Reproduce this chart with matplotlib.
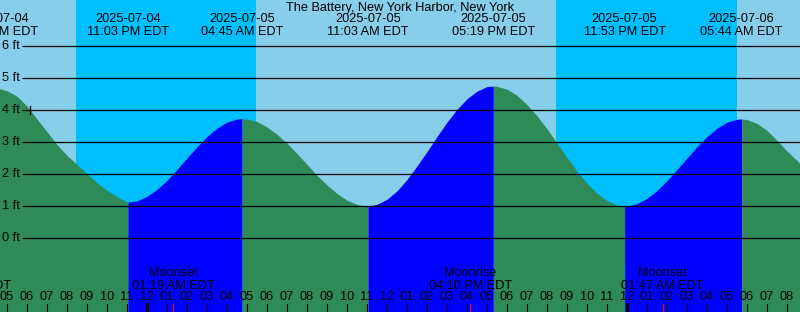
import numpy as np
import matplotlib
matplotlib.use('Agg')
import matplotlib.pyplot as plt

plt.rcParams['font.family'] = ['Liberation Sans', 'DejaVu Sans']

# times are hours since 2025-07-04 00:00 EDT
tide_times = [16.483, 23.05, 28.75, 35.05, 41.317, 47.883, 53.733]
tide_heights = [4.70, 1.12, 3.73, 1.00, 4.75, 1.00, 3.72]
tide_dates = ['2025-07-04', '2025-07-04', '2025-07-05', '2025-07-05',
              '2025-07-05', '2025-07-05', '2025-07-06']
tide_clock = ['04:29 PM EDT', '11:03 PM EDT', '04:45 AM EDT', '11:03 AM EDT',
              '05:19 PM EDT', '11:53 PM EDT', '05:44 AM EDT']

# water level every half hour, 16:30 Jul 4 -> 09:00 Jul 6
level_times = np.arange(16.5, 57.01, 0.5)
level_heights = [4.69, 4.60, 4.43, 4.12, 3.72, 3.32, 2.92, 2.58, 2.30, 2.01,
                 1.73, 1.49, 1.29, 1.13, 1.16, 1.30, 1.52, 1.80, 2.14, 2.50,
                 2.85, 3.17, 3.43, 3.62, 3.72, 3.72, 3.64, 3.47, 3.24, 2.96,
                 2.64, 2.30, 1.96, 1.66, 1.39, 1.18, 1.05, 1.00, 1.05, 1.21,
                 1.47, 1.83, 2.25, 2.70, 3.17, 3.62, 4.02, 4.35, 4.59, 4.73,
                 4.74, 4.65, 4.46, 4.17, 3.82, 3.41, 2.97, 2.52, 2.09, 1.71,
                 1.40, 1.17, 1.03, 1.00, 1.07, 1.24, 1.48, 1.79, 2.14, 2.50,
                 2.85, 3.17, 3.43, 3.62, 3.71, 3.70, 3.58, 3.36, 3.05, 2.72,
                 2.42, 2.10]

sun_times = [20.47, 29.43, 44.45, 53.48]   # sunset, sunrise, sunset, sunrise

moon_times = [15.117, 25.317, 40.167, 49.783]
moon_names = ['Moonrise', 'Moonset', 'Moonrise', 'Moonset']
moon_clock = ['03:07 PM EDT', '01:19 AM EDT', '04:10 PM EDT', '01:47 AM EDT']

depth_levels = [0, 1, 2, 3, 4, 5, 6]
mark_time, mark_level = 18.15, 4.0

day_c, night_c = '#87CEEB', '#00BFFF'
flood_c, ebb_c = '#0000FF', '#2E8B57'
fs = 9.2


# pixel -> data helpers (800x312 canvas, 20 px per hour, 32 px per ft)
def xpx(p):
    return 17 + (p - 7) / 20.0


def ypx(p):
    return (238 - p) / 32.0


fig = plt.figure(figsize=(8, 3.12), dpi=100)
ax = fig.add_axes([0, 0, 1, 1])
ax.set_axis_off()
x0, x1 = xpx(0), xpx(800)
y0, y1 = ypx(312), ypx(0)
ax.set_xlim(x0, x1)
ax.set_ylim(y0, y1)

# sky: day / night
ax.axvspan(x0, x1, color=day_c, lw=0, zorder=0)
for a, b in zip(sun_times[0::2], sun_times[1::2]):
    ax.axvspan(a, b, color=night_c, lw=0, zorder=0)

# water, flood (rising) in blue, ebb (falling) in green
t = np.concatenate([level_times, tide_times])
h = np.concatenate([level_heights, tide_heights])
order = np.argsort(t)
t, h = t[order], h[order]
bounds = [t[0]] + tide_times + [t[-1]]
for a, b in zip(bounds[:-1], bounds[1:]):
    m = (t >= a) & (t <= b)
    if m.sum() < 2:
        continue
    col = flood_c if h[m][-1] > h[m][0] else ebb_c
    ax.fill_between(t[m], y0, h[m], color=col, lw=0, zorder=1)

# depth lines
ax.hlines(depth_levels, xpx(22), x1, color='black', lw=0.9, zorder=3)
for d in depth_levels:
    ax.text(xpx(20), d, '%d ft' % d, ha='right', va='center', fontsize=fs, zorder=4)
ax.plot([mark_time, mark_time], [mark_level - 0.14, mark_level + 0.14],
        color='black', lw=0.9, zorder=4)

# top labels
ax.text(xpx(400), ypx(7.5), 'The Battery, New York Harbor, New York',
        ha='center', va='center', fontsize=fs)
for tt, d, c in zip(tide_times, tide_dates, tide_clock):
    ax.text(tt, ypx(19.5), d, ha='center', va='center', fontsize=fs)
    ax.text(tt, ypx(32), c, ha='center', va='center', fontsize=fs)

# moon labels
for tt, n, c in zip(moon_times, moon_names, moon_clock):
    ax.text(tt, ypx(273), n, ha='center', va='center', fontsize=fs)
    ax.text(tt, ypx(286), c, ha='center', va='center', fontsize=fs)
    ax.plot([tt, tt], [ypx(304), ypx(312)], color='red', lw=0.8, zorder=4)

# hour ticks and labels
for hr in range(17, 57):
    lab = hr % 12
    if lab == 0:
        lab = 12
    ax.text(hr, ypx(297), '%02d' % lab, ha='center', va='center', fontsize=fs)
    lw = 2.2 if hr % 24 == 0 else 0.8
    ax.plot([hr, hr], [ypx(304), ypx(312)], color='black', lw=lw, zorder=4)

fig.savefig('out.png', dpi=100)
